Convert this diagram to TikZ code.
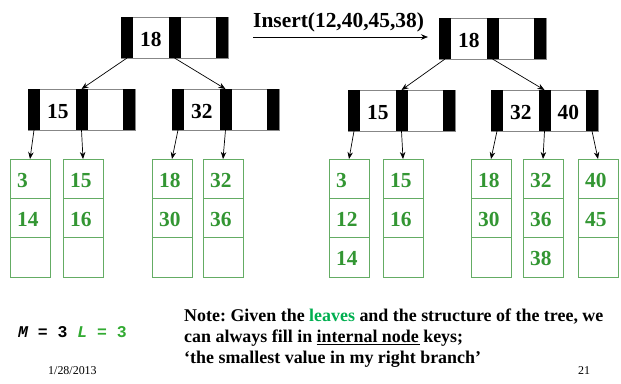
\documentclass[tikz,border=0pt]{standalone}
\usepackage{fontspec}
\setmainfont{Liberation Serif}
\newfontfamily\codefont{Liberation Mono}
\usetikzlibrary{arrows.meta}
\frenchspacing

\definecolor{leafgreen}{RGB}{51,150,51}
\definecolor{leafline}{RGB}{100,172,100}
\definecolor{notegreen}{RGB}{0,175,80}
\definecolor{lgreen}{RGB}{50,170,50}
\definecolor{cellgray}{RGB}{135,135,135}

\tikzset{
  x=1bp, y=-1bp,
  nodebox/.style={draw=cellgray, line width=0.8bp, minimum width=107bp,
    minimum height=41bp, inner sep=0, outer sep=0, anchor=north west},
  bar/.style={fill=black, minimum width=12bp, minimum height=41bp,
    inner sep=0, outer sep=0, anchor=north west},
  key/.style={font=\bfseries\fontsize{21.5}{24}\selectfont, inner sep=0, anchor=base},
  leafbox/.style={draw=leafline, line width=0.9bp, minimum width=40bp,
    minimum height=118bp, inner sep=0, outer sep=0, anchor=north west},
  leafrule/.style={draw=leafline, line width=0.9bp},
  leafkey/.style={font=\bfseries\fontsize{21.5}{24}\selectfont, text=leafgreen,
    inner sep=0, anchor=base west},
  link/.style={line width=0.7bp, -{Stealth[length=7bp,width=5.5bp]}},
  textline/.style={anchor=base west, inner sep=0},
}

% internal node: name, left x, top y, first key, second key
\newcommand\inode[5]{%
  \node[nodebox] (#1) at ({#2},{#3}) {};
  \node[bar] (#1-a) at ({#2},{#3}) {};
  \node[bar] (#1-b) at ({#2+47.5},{#3}) {};
  \node[bar] (#1-c) at ({#2+95},{#3}) {};
  \node[key] (#1-k1) at ({#2+29.75},{#3+29}) {#4};
  \node[key] (#1-k2) at ({#2+77.25},{#3+29}) {#5};
}

% leaf: name, left x, three keys
\newcommand\leaf[5]{%
  \node[leafbox] (#1) at ({#2},159) {};
  \draw[leafrule] ({#2},198.3) -- ({#2+40},198.3);
  \draw[leafrule] ({#2},237.7) -- ({#2+40},237.7);
  \node[leafkey] (#1-k1) at ({#2+7},187) {#3};
  \node[leafkey] (#1-k2) at ({#2+7},226.3) {#4};
  \node[leafkey] (#1-k3) at ({#2+7},265.7) {#5};
}

% thick underline a little below the baseline
\newcommand\ulkeys[1]{\setbox0=\hbox{#1}\rlap{\rule[-3pt]{\dimexpr\wd0+1.5pt\relax}{1.3pt}}\box0\relax}

\begin{document}
\begin{tikzpicture}
\useasboundingbox (0,0) rectangle (621,383);

% tree before the insertions
\inode{rootL}{121}{17}{18}{}
\inode{aL}{28}{89}{15}{}
\inode{bL}{172}{89}{32}{}
\leaf{l1}{10}{3}{14}{}
\leaf{l2}{63}{15}{16}{}
\leaf{l3}{152}{18}{30}{}
\leaf{l4}{203}{32}{36}{}

\draw[link] (rootL-a.south) -- (aL-b.north);
\draw[link] (rootL-b.south) -- (bL-b.north);
\draw[link] (aL-a.south) -- (l1.north);
\draw[link] (aL-b.south) -- (l2.north);
\draw[link] (bL-a.south) -- (l3.north);
\draw[link] (bL-b.south) -- (l4.north);

% tree after the insertions
\inode{rootR}{439}{18}{18}{}
\inode{aR}{348}{90}{15}{}
\inode{bR}{491}{90}{32}{40}
\leaf{r1}{329}{3}{12}{14}
\leaf{r2}{383}{15}{16}{}
\leaf{r3}{471}{18}{30}{}
\leaf{r4}{523}{32}{36}{38}
\leaf{r5}{578}{40}{45}{}

\draw[link] (rootR-a.south) -- (aR-b.north);
\draw[link] (rootR-b.south) -- (bR-b.north);
\draw[link] (aR-a.south) -- (r1.north);
\draw[link] (aR-b.south) -- (r2.north);
\draw[link] (bR-a.south) -- (r3.north);
\draw[link] (bR-b.south) -- (r4.north);
\draw[link] (bR-c.south) -- (r5.north);

% insertion arrow
\coordinate (insFrom) at (253,37);
\coordinate (insTo) at (428,37);
\draw[link] (insFrom) -- (insTo);
\node[textline, font=\bfseries\fontsize{21.5}{24}\selectfont] (insLabel) at (253,27) {Insert(12,40,45,38)};

% parameters
\node[textline, font=\codefont\bfseries\fontsize{16.5}{18}\selectfont] (params) at (18,337)
  {\itshape M\upshape{} = 3 \textcolor{lgreen}{\itshape L\upshape{} = 3}};

% note
\node[textline, font=\bfseries\fontsize{18}{21}\selectfont] (note1) at (184,321)
  {Note: Given the \textcolor{notegreen}{leaves} and the structure of the tree, we};
\node[textline, font=\bfseries\fontsize{18}{21}\selectfont] (note2) at (184,342.5)
  {can always fill in \ulkeys{internal node} keys;};
\node[textline, font=\bfseries\fontsize{18}{21}\selectfont] (note3) at (184,363.5)
  {‘the smallest value in my right branch’};

% footer
\node[textline, font=\fontsize{12}{14}\selectfont] (date) at (48,374) {1/28/2013};
\node[textline, font=\fontsize{12}{14}\selectfont] (page) at (578,374) {21};
\end{tikzpicture}
\end{document}
